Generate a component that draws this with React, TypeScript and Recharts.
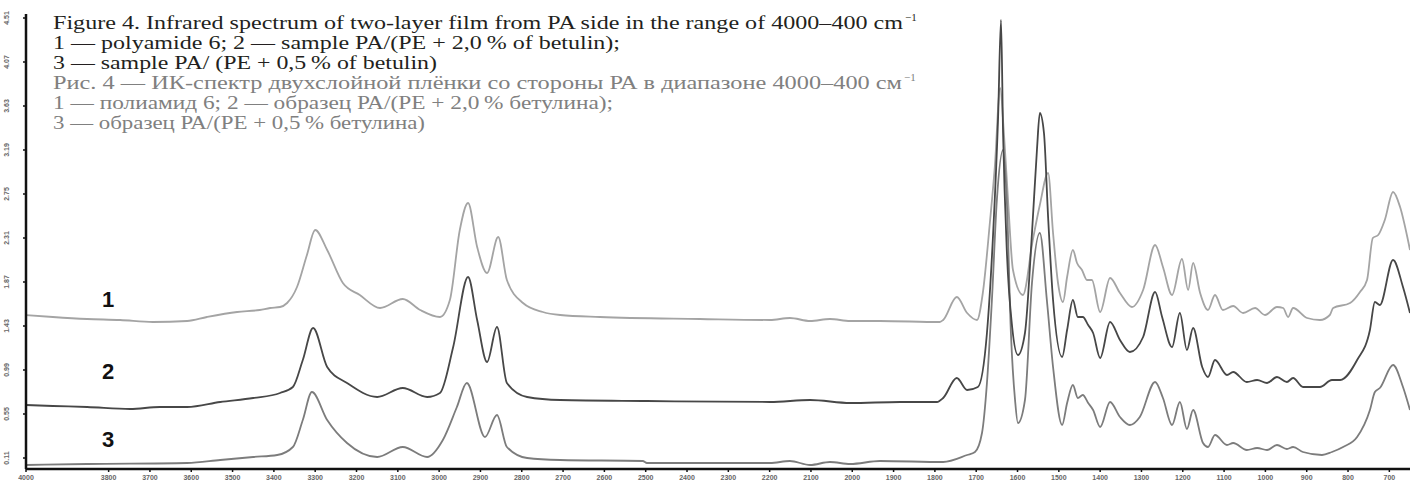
import React from 'react';
import { LineChart, Line, XAxis, YAxis } from 'recharts';

// wavenumbers (cm-1) and absorbance, one pair of arrays per spectrum
const wn1 = [4000, 3935, 3852, 3772, 3693, 3610, 3562, 3489, 3434, 3409, 3385, 3368, 3344, 3320, 3300, 3271, 3233, 3192, 3143, 3088, 3046, 2998, 2974, 2950, 2930, 2908, 2884, 2857, 2836, 2797, 2749, 2707, 2611, 2369, 2199, 2151, 2102, 2054, 2005, 1933, 1788, 1780, 1747, 1722, 1698, 1684, 1667, 1655, 1642, 1633, 1623, 1611, 1587, 1563, 1546, 1526, 1514, 1502, 1490, 1480, 1466, 1456, 1444, 1432, 1420, 1400, 1376, 1352, 1323, 1296, 1267, 1248, 1226, 1202, 1187, 1175, 1158, 1139, 1122, 1103, 1078, 1054, 1025, 1001, 972, 957, 945, 933, 899, 868, 844, 836, 795, 771, 754, 740, 727, 711, 691, 674, 655, 650];
const abs1 = [1.54, 1.52, 1.5, 1.49, 1.47, 1.48, 1.52, 1.57, 1.59, 1.61, 1.62, 1.66, 1.82, 2.14, 2.39, 2.19, 1.86, 1.74, 1.61, 1.7, 1.59, 1.52, 1.69, 2.39, 2.66, 2.22, 1.96, 2.32, 1.89, 1.66, 1.57, 1.54, 1.52, 1.5, 1.49, 1.51, 1.48, 1.5, 1.48, 1.48, 1.47, 1.49, 1.72, 1.56, 1.49, 1.76, 2.46, 3.02, 3.81, 3.36, 2.69, 1.99, 1.74, 2.29, 2.64, 2.96, 2.36, 1.86, 1.67, 1.92, 2.19, 2.06, 1.99, 1.89, 1.89, 1.57, 1.91, 1.76, 1.62, 1.79, 2.24, 2.02, 1.74, 2.1, 1.79, 2.06, 1.76, 1.59, 1.74, 1.59, 1.63, 1.56, 1.61, 1.54, 1.62, 1.61, 1.52, 1.61, 1.51, 1.49, 1.54, 1.61, 1.66, 1.77, 1.89, 2.31, 2.34, 2.49, 2.77, 2.62, 2.29, 2.19];

const wn2 = [4000, 3935, 3852, 3748, 3676, 3610, 3530, 3450, 3385, 3354, 3330, 3305, 3271, 3223, 3150, 3088, 3029, 2998, 2966, 2930, 2908, 2884, 2860, 2836, 2787, 2707, 2497, 2199, 2102, 2005, 1884, 1795, 1780, 1747, 1722, 1696, 1674, 1659, 1647, 1640, 1635, 1626, 1613, 1599, 1582, 1565, 1553, 1546, 1536, 1526, 1514, 1492, 1480, 1466, 1454, 1442, 1429, 1417, 1400, 1376, 1352, 1328, 1296, 1267, 1250, 1226, 1207, 1190, 1175, 1153, 1139, 1122, 1093, 1078, 1045, 1020, 996, 972, 948, 933, 909, 868, 839, 819, 778, 747, 735, 723, 691, 667, 650];
const abs2 = [0.64, 0.63, 0.62, 0.6, 0.62, 0.62, 0.67, 0.71, 0.76, 0.82, 1.09, 1.41, 1.02, 0.86, 0.72, 0.81, 0.72, 0.76, 1.22, 1.92, 1.49, 1.07, 1.42, 0.86, 0.72, 0.69, 0.68, 0.67, 0.69, 0.66, 0.67, 0.67, 0.71, 0.91, 0.79, 0.82, 1.36, 2.36, 3.52, 4.49, 3.36, 2.19, 1.42, 1.14, 1.36, 2.36, 3.19, 3.56, 3.36, 2.52, 1.69, 1.12, 1.39, 1.69, 1.52, 1.52, 1.44, 1.36, 1.11, 1.47, 1.29, 1.17, 1.32, 1.77, 1.52, 1.22, 1.56, 1.19, 1.41, 1.02, 0.92, 1.09, 0.94, 0.97, 0.87, 0.89, 0.86, 0.92, 0.87, 0.91, 0.82, 0.82, 0.89, 0.89, 1.09, 1.39, 1.67, 1.64, 2.09, 1.82, 1.56];

const wn3 = [4000, 3852, 3610, 3530, 3450, 3392, 3354, 3330, 3308, 3271, 3223, 3150, 3088, 3029, 2991, 2957, 2933, 2889, 2860, 2836, 2787, 2707, 2507, 2497, 2199, 2151, 2102, 2054, 2005, 1933, 1780, 1722, 1703, 1686, 1674, 1662, 1650, 1635, 1626, 1616, 1606, 1599, 1582, 1565, 1546, 1529, 1514, 1492, 1480, 1466, 1454, 1442, 1429, 1417, 1400, 1376, 1352, 1328, 1304, 1267, 1248, 1226, 1207, 1190, 1175, 1151, 1139, 1122, 1093, 1078, 1045, 1020, 996, 972, 948, 933, 909, 863, 839, 812, 778, 747, 735, 723, 691, 667, 650];
const abs3 = [0.04, 0.05, 0.06, 0.09, 0.12, 0.14, 0.22, 0.49, 0.77, 0.49, 0.26, 0.12, 0.22, 0.12, 0.29, 0.62, 0.86, 0.32, 0.54, 0.22, 0.11, 0.09, 0.08, 0.06, 0.06, 0.08, 0.04, 0.07, 0.05, 0.08, 0.07, 0.14, 0.17, 0.36, 0.86, 1.69, 2.69, 3.19, 2.69, 1.36, 0.69, 0.46, 0.69, 1.86, 2.36, 1.69, 1.02, 0.44, 0.66, 0.84, 0.71, 0.74, 0.66, 0.59, 0.42, 0.67, 0.52, 0.44, 0.52, 0.87, 0.71, 0.44, 0.67, 0.4, 0.59, 0.26, 0.22, 0.34, 0.24, 0.26, 0.19, 0.21, 0.19, 0.24, 0.2, 0.22, 0.17, 0.14, 0.17, 0.22, 0.32, 0.59, 0.77, 0.81, 1.04, 0.82, 0.59];

const xTicks = [4000, 3800, 3700, 3600, 3500, 3400, 3300, 3200, 3100, 3000, 2900, 2800, 2700, 2600, 2500, 2400, 2300, 2200, 2100, 2000, 1900, 1800, 1700, 1600, 1500, 1400, 1300, 1200, 1100, 1000, 900, 800, 700];
const yTicks = [0.11, 0.55, 0.99, 1.43, 1.87, 2.31, 2.75, 3.19, 3.63, 4.07, 4.51];

const curveLabels = ['1', '2', '3'];
const captionEn = [
  'Figure 4. Infrared spectrum of two-layer film from PA side in the range of 4000–400 cm',
  '1 — polyamide 6; 2 — sample PA/(PE + 2,0\u2009% of betulin);',
  '3 — sample PA/ (PE + 0,5\u2009% of betulin)',
];
const captionRu = [
  'Рис. 4 — ИК-спектр двухслойной плёнки со стороны РА в диапазоне 4000–400 см',
  '1 — полиамид 6; 2 — образец РА/(РЕ + 2,0\u2009% бетулина);',
  '3 — образец РА/(РЕ + 0,5\u2009% бетулина)',
];

const toPoints = (wn: number[], abs: number[]) => wn.map((w, i) => ({ wn: w, a: abs[i] }));
const spectrum1 = toPoints(wn1, abs1);
const spectrum2 = toPoints(wn2, abs2);
const spectrum3 = toPoints(wn3, abs3);

const XTick = ({ x, y, payload }: any) => (
  <text x={x} y={y + 6} textAnchor="middle" fontSize={7} fontWeight="bold" fill="#666" fontFamily="Liberation Sans">
    {payload.value}
  </text>
);

const YTick = ({ y, payload }: any) => (
  <text
    x={9}
    y={y}
    transform={`rotate(-90 9 ${y})`}
    textAnchor="middle"
    fontSize={7}
    fontWeight="bold"
    fill="#666"
    fontFamily="Liberation Sans"
  >
    {payload.value.toFixed(2)}
  </text>
);

// baseline and stretched width of each caption line
const enLayout = [
  [29, 850],
  [49, 567],
  [69, 384],
];
const ruLayout = [
  [89, 849],
  [109, 560],
  [129, 372],
];

export default function App() {
  return (
    <div style={{ position: 'absolute', left: 0, top: 0, width: 1410, height: 481, background: '#fff' }}>
      <LineChart width={1410} height={481} data={spectrum2} margin={{ top: 14, right: 0, bottom: 0, left: 0 }}>
        <XAxis
          dataKey="wn"
          type="number"
          domain={[650, 4000]}
          reversed
          allowDataOverflow
          ticks={xTicks}
          interval={0}
          height={12}
          tickSize={3}
          tick={<XTick />}
          axisLine={{ stroke: '#111', strokeWidth: 2.5 }}
          tickLine={{ stroke: '#111', strokeWidth: 1.5 }}
        />
        <YAxis
          type="number"
          domain={[0, 4.55]}
          allowDataOverflow
          ticks={yTicks}
          interval={0}
          width={26}
          tickSize={3}
          tick={<YTick />}
          axisLine={{ stroke: '#111', strokeWidth: 2.5 }}
          tickLine={{ stroke: '#111', strokeWidth: 1.5 }}
        />
        <Line data={spectrum1} dataKey="a" type="monotone" stroke="#a4a4a4" strokeWidth={1.8} dot={false} isAnimationActive={false} />
        <Line data={spectrum3} dataKey="a" type="monotone" stroke="#7c7c7c" strokeWidth={1.8} dot={false} isAnimationActive={false} />
        <Line data={spectrum2} dataKey="a" type="monotone" stroke="#474747" strokeWidth={1.8} dot={false} isAnimationActive={false} />
      </LineChart>

      {/* caption and curve numbers */}
      <svg width={1410} height={481} style={{ position: 'absolute', left: 0, top: 0, pointerEvents: 'none' }}>
        {captionEn.map((t, i) => (
          <text
            key={'en' + i}
            x={53}
            y={enLayout[i][0]}
            fontFamily="Liberation Serif"
            fontSize={18}
            fill="#231f20"
            textLength={enLayout[i][1]}
            lengthAdjust="spacingAndGlyphs"
          >
            {t}
          </text>
        ))}
        <text x={905} y={21} fontFamily="Liberation Serif" fontSize={11} fill="#231f20">−1</text>
        {captionRu.map((t, i) => (
          <text
            key={'ru' + i}
            x={53}
            y={ruLayout[i][0]}
            fontFamily="Liberation Serif"
            fontSize={18}
            fill="#808080"
            textLength={ruLayout[i][1]}
            lengthAdjust="spacingAndGlyphs"
          >
            {t}
          </text>
        ))}
        <text x={904} y={81} fontFamily="Liberation Serif" fontSize={11} fill="#808080">−1</text>
        {curveLabels.map((c, i) => (
          <text
            key={c}
            x={108}
            y={[307, 379, 447][i]}
            textAnchor="middle"
            fontFamily="Liberation Sans"
            fontWeight="bold"
            fontSize={22}
            fill="#111"
          >
            {c}
          </text>
        ))}
      </svg>
    </div>
  );
}
